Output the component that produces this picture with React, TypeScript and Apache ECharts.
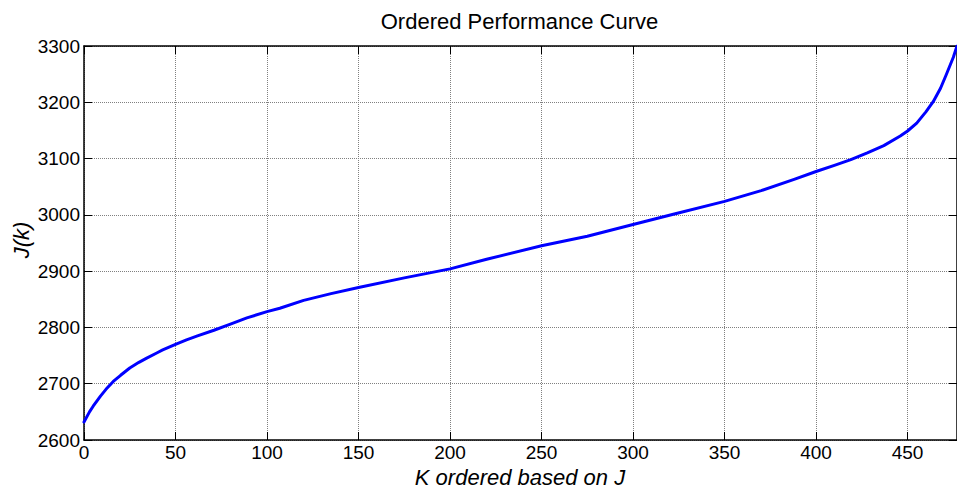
import React, { useEffect, useRef } from "react";
import * as echarts from "echarts";

const titleText = "Ordered Performance Curve";
const xName = "K ordered based on J";
const yName = "J(k)";

const kValues = [
  0, 3, 5, 9, 12, 16, 20, 25, 30, 34, 40, 43, 50, 56, 62, 71, 80, 89, 100, 107,
  120, 135, 150, 175, 200, 220, 250, 275, 300, 322, 350, 370, 388, 400, 410,
  419, 428, 437, 446, 450, 455, 460, 464, 468, 471, 475, 477,
];
const jValues = [
  2632, 2650, 2660, 2678, 2690, 2704, 2715, 2728, 2738, 2745, 2755, 2760, 2770, 2778,
  2785, 2795, 2806, 2817, 2828, 2834, 2848, 2860, 2871, 2888, 2904, 2921, 2945, 2962,
  2983, 3001, 3024, 3043, 3063, 3077, 3088, 3098, 3110, 3123, 3140, 3149, 3163,
  3183, 3201, 3225, 3248, 3280, 3300,
];

const X_MIN = 0;
const X_MAX = 477;
const X_STEP = 50;
const Y_MIN = 2600;
const Y_MAX = 3300;
const Y_STEP = 100;

const FONT = '"Liberation Sans", Arial, Helvetica, sans-serif';

export default function App() {
  const ref = useRef<HTMLDivElement>(null);

  useEffect(() => {
    if (!ref.current) return;
    const chart = echarts.init(ref.current, null, { renderer: "svg" });
    const data = kValues.map((k, i) => [k, jValues[i]]);

    const gridLine = { show: true, lineStyle: { color: "#808080", type: "dotted" as const, width: 1 } };
    const axisLine = { show: true, onZero: false, lineStyle: { color: "#000", width: 1.5 } };
    const tick = { show: true, inside: true, length: 8, lineStyle: { color: "#000", width: 1 } };
    const label = { color: "#000", fontSize: 19, fontFamily: FONT, formatter: (v: number) => String(v) };

    chart.setOption({
      animation: false,
      backgroundColor: "#fff",
      grid: { left: 84, right: 0, top: 46, bottom: 50, containLabel: false },
      xAxis: [
        {
          type: "value", position: "bottom", min: X_MIN, max: X_MAX, interval: X_STEP,
          axisLine, axisTick: tick,
          axisLabel: { ...label, margin: 3, showMaxLabel: false },
          splitLine: gridLine,
        },
        {
          type: "value", position: "top", min: X_MIN, max: X_MAX, interval: X_STEP,
          axisLine, axisTick: tick, axisLabel: { show: false }, splitLine: { show: false },
        },
      ],
      yAxis: [
        {
          type: "value", position: "left", min: Y_MIN, max: Y_MAX, interval: Y_STEP,
          axisLine, axisTick: tick,
          axisLabel: { ...label, margin: 4 },
          splitLine: gridLine,
        },
        {
          type: "value", position: "right", min: Y_MIN, max: Y_MAX, interval: Y_STEP,
          axisLine, axisTick: tick, axisLabel: { show: false }, splitLine: { show: false },
        },
      ],
      series: [
        {
          type: "line",
          data,
          showSymbol: false,
          smooth: false,
          lineStyle: { color: "#0000ff", width: 3, join: "round", cap: "round" },
          clip: true,
        },
      ],
      graphic: [
        {
          type: "text", x: 519.5, y: 21,
          style: { text: titleText, fill: "#000", font: `22px ${FONT}`, textAlign: "center", textVerticalAlign: "middle" },
        },
        {
          type: "text", x: 520, y: 477,
          style: { text: xName, fill: "#000", font: `italic 22px ${FONT}`, textAlign: "center", textVerticalAlign: "middle" },
        },
        {
          type: "text", x: 21, y: 240, rotation: Math.PI / 2,
          style: { text: yName, fill: "#000", font: `italic 22px ${FONT}`, textAlign: "center", textVerticalAlign: "middle" },
        },
      ],
    });
    return () => chart.dispose();
  }, []);

  return (
    <div
      ref={ref}
      style={{ position: "absolute", left: 0, top: 0, width: 957, height: 490, background: "#fff" }}
    />
  );
}
